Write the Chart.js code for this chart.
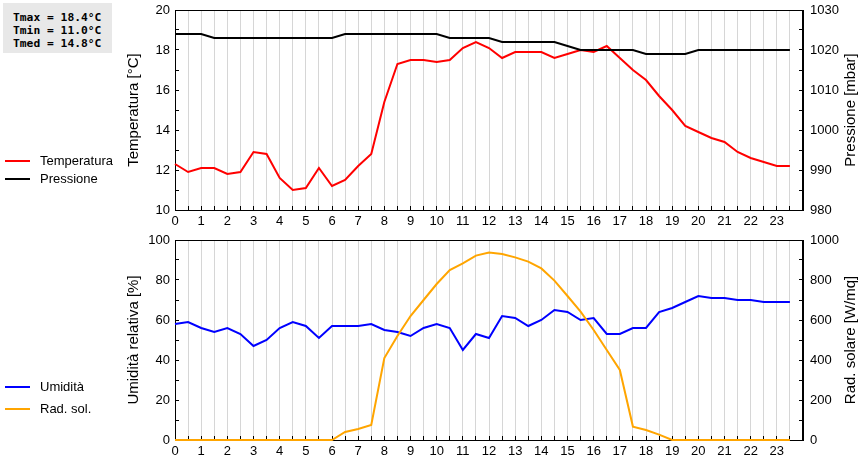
<!DOCTYPE html>
<html>
<head>
<meta charset="utf-8">
<script src="https://cdn.jsdelivr.net/npm/chart.js@4.4.1/dist/chart.umd.min.js"></script>
<style>
  body { margin: 0; background: #fff; width: 860px; height: 460px; overflow: hidden; position: relative;
         font-family: "Liberation Sans", Arial, sans-serif; }
  .box { position: absolute; left: 0; width: 860px; height: 230px; }
  #stats { position: absolute; left: 3px; top: 3px; width: 99px; height: 42px; padding: 8px 0 0 10px;
           background: #e8e8e8; font: bold 11.3px "DejaVu Sans Mono", monospace; line-height: 13px; color: #000; }
  .leg { position: absolute; left: 5px; height: 16px; font-size: 13px; color: #000; }
  .leg span.ln { position: absolute; left: 0; top: 7px; width: 25px; height: 2px; }
  .leg span.tx { position: absolute; left: 35px; top: 0; white-space: nowrap; line-height: 16px; }
</style>
</head>
<body>

<div class="box" style="top:0"><canvas id="topChart" width="860" height="230"></canvas></div>
<div class="box" style="top:230px"><canvas id="bottomChart" width="860" height="230"></canvas></div>

<div id="stats">Tmax = 18.4°C<br>Tmin = 11.0°C<br>Tmed = 14.8°C</div>

<div class="leg" style="top:153px"><span class="ln" style="background:#ff0000"></span><span class="tx">Temperatura</span></div>
<div class="leg" style="top:171px"><span class="ln" style="background:#000000"></span><span class="tx">Pressione</span></div>
<div class="leg" style="top:379px"><span class="ln" style="background:#0000ff"></span><span class="tx">Umidità</span></div>
<div class="leg" style="top:401px"><span class="ln" style="background:#ffa500"></span><span class="tx">Rad. sol.</span></div>

<script>
// half-hour readings
const hours = [0, 0.5, 1, 1.5, 2, 2.5, 3, 3.5, 4, 4.5, 5, 5.5, 6, 6.5, 7, 7.5,
               8, 8.5, 9, 9.5, 10, 10.5, 11, 11.5, 12, 12.5, 13, 13.5, 14, 14.5, 15, 15.5,
               16, 16.5, 17, 17.5, 18, 18.5, 19, 19.5, 20, 20.5, 21, 21.5, 22, 22.5, 23, 23.5];

const temperatura = [12.3, 11.9, 12.1, 12.1, 11.8, 11.9, 12.9, 12.8, 11.6, 11.0, 11.1, 12.1, 11.2, 11.5, 12.2, 12.8,
                     15.4, 17.3, 17.5, 17.5, 17.4, 17.5, 18.1, 18.4, 18.1, 17.6, 17.9, 17.9, 17.9, 17.6, 17.8, 18.0,
                     17.9, 18.2, 17.6, 17.0, 16.5, 15.7, 15.0, 14.2, 13.9, 13.6, 13.4, 12.9, 12.6, 12.4, 12.2, 12.2];

const pressione = [1024, 1024, 1024, 1023, 1023, 1023, 1023, 1023, 1023, 1023, 1023, 1023, 1023, 1024, 1024, 1024,
                   1024, 1024, 1024, 1024, 1024, 1023, 1023, 1023, 1023, 1022, 1022, 1022, 1022, 1022, 1021, 1020,
                   1020, 1020, 1020, 1020, 1019, 1019, 1019, 1019, 1020, 1020, 1020, 1020, 1020, 1020, 1020, 1020];

const umidita = [58, 59, 56, 54, 56, 53, 47, 50, 56, 59, 57, 51, 57, 57, 57, 58,
                 55, 54, 52, 56, 58, 56, 45, 53, 51, 62, 61, 57, 60, 65, 64, 60,
                 61, 53, 53, 56, 56, 64, 66, 69, 72, 71, 71, 70, 70, 69, 69, 69];

const radSolare = [0, 0, 0, 0, 0, 0, 0, 0, 0, 0, 0, 0, 0, 40, 55, 75,
                   410, 520, 620, 700, 780, 850, 883, 922, 937, 930, 913, 892, 858, 797, 720, 642,
                   550, 450, 350, 67, 50, 27, 0, 0, 0, 0, 0, 0, 0, 0, 0, 0];

// axis ranges: [min, max, minor step, labelled step]
const tempAxis = [10, 20, 1, 2];
const pressAxis = [980, 1030, 5, 10];
const umidAxis = [0, 100, 10, 20];
const radAxis = [0, 1000, 100, 200];
const hourLabels = [0, 1, 2, 3, 4, 5, 6, 7, 8, 9, 10, 11, 12, 13, 14, 15, 16, 17, 18, 19, 20, 21, 22, 23];

Chart.defaults.color = "#000";
Chart.defaults.font.family = '"Liberation Sans", Arial, sans-serif';
Chart.defaults.font.size = 13;

function points(values) {
    return hours.map((h, i) => ({ x: h, y: values[i] }));
}

function xAxis() {
    return {
        type: "linear", position: "bottom", min: 0, max: 24,
        afterFit: (s) => { s.height = 20; },
        grid: { color: "#d6d6d6", tickColor: "#000", tickLength: -4, drawTicks: true },
        border: { color: "#000" },
        ticks: {
            stepSize: 0.5, autoSkip: false, maxRotation: 0, padding: 8,
            callback: (v) => hourLabels.includes(v) ? String(v) : ""
        }
    };
}

function yAxis(side, range) {
    return {
        type: "linear", position: side, min: range[0], max: range[1],
        afterFit: (s) => {
            s.width = side === "left" ? 60 : 50;
            s.paddingTop = 0;
            s.paddingBottom = 0;
        },
        grid: { drawOnChartArea: false, tickColor: "#000", tickLength: -4 },
        border: { color: "#000" },
        ticks: {
            stepSize: range[2], autoSkip: false, padding: side === "left" ? 9 : 11,
            callback: (v) => (v % range[3] === 0) ? String(v) : ""
        }
    };
}

// frame + axis titles (right title reads bottom-up as in the original)
const framePlugin = {
    id: "frame",
    beforeDatasetsDraw(chart) {
        const a = chart.chartArea;
        const ctx = chart.ctx;
        ctx.save();
        ctx.strokeStyle = "#000";
        ctx.lineWidth = 1;
        ctx.strokeRect(Math.round(a.left) + 0.5, Math.round(a.top) + 0.5,
                       Math.round(a.right - a.left) - 1, Math.round(a.bottom - a.top));
        ctx.restore();
    },
    afterDraw(chart, args, opts) {
        const a = chart.chartArea;
        const ctx = chart.ctx;
        const cy = (a.top + a.bottom) / 2;
        ctx.save();
        ctx.fillStyle = "#000";
        ctx.font = '15px "Liberation Sans", Arial, sans-serif';
        ctx.textAlign = "center";
        ctx.textBaseline = "middle";
        [[opts.left, 134], [opts.right, 851]].forEach(([txt, x]) => {
            ctx.save();
            ctx.translate(x, cy);
            ctx.rotate(-Math.PI / 2);
            ctx.fillText(txt, 0, 0);
            ctx.restore();
        });
        ctx.restore();
    }
};

function makeChart(id, sets, leftRange, rightRange, titles) {
    return new Chart(document.getElementById(id), {
        type: "line",
        data: {
            datasets: sets.map(s => ({
                label: s.label, data: points(s.values), yAxisID: s.axis,
                borderColor: s.color, borderWidth: 2, pointRadius: 0, tension: 0, clip: false
            }))
        },
        options: {
            responsive: false, animation: false,
            layout: { padding: { left: 115, right: 7, top: 10, bottom: 0 } },
            plugins: { legend: { display: false }, tooltip: { enabled: false }, frame: titles },
            scales: { x: xAxis(), yL: yAxis("left", leftRange), yR: yAxis("right", rightRange) }
        },
        plugins: [framePlugin]
    });
}

makeChart("topChart", [
    { label: "Pressione", values: pressione, axis: "yR", color: "#000000" },
    { label: "Temperatura", values: temperatura, axis: "yL", color: "#ff0000" }
], tempAxis, pressAxis, { left: "Temperatura [°C]", right: "Pressione [mbar]" });

makeChart("bottomChart", [
    { label: "Rad. sol.", values: radSolare, axis: "yR", color: "#ffa500" },
    { label: "Umidità", values: umidita, axis: "yL", color: "#0000ff" }
], umidAxis, radAxis, { left: "Umidità relativa [%]", right: "Rad. solare [W/mq]" });
</script>
</body>
</html>
